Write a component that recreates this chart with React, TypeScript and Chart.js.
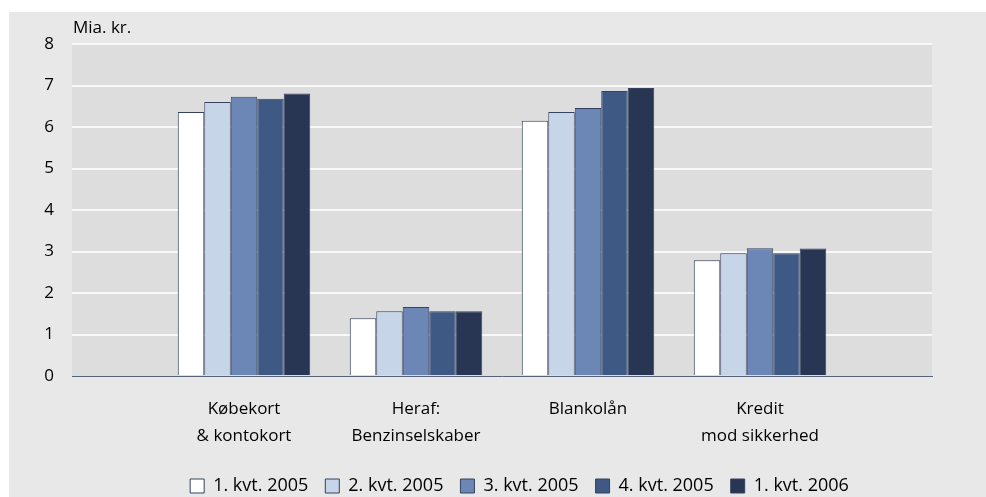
import React, { useEffect, useRef } from "react";
import { Chart, registerables } from "chart.js";

Chart.register(...registerables);

// ---- Data ----
const categories: string[][] = [
  [""],
  ["Købekort", "& kontokort"],
  ["Heraf:", "Benzinselskaber"],
  ["Blankolån"],
  ["Kredit", "mod sikkerhed"],
  [""],
];
const seriesLabels = ["1. kvt. 2005", "2. kvt. 2005", "3. kvt. 2005", "4. kvt. 2005", "1. kvt. 2006"];
const q1_2005 = [null, 6.36, 1.39, 6.15, 2.79, null];
const q2_2005 = [null, 6.6, 1.56, 6.36, 2.96, null];
const q3_2005 = [null, 6.73, 1.66, 6.46, 3.08, null];
const q4_2005 = [null, 6.68, 1.56, 6.87, 2.96, null];
const q1_2006 = [null, 6.81, 1.56, 6.94, 3.07, null];
const yMin = 0;
const yMax = 8;
const yStep = 1;
const unitLabel = "Mia. kr.";

const seriesValues = [q1_2005, q2_2005, q3_2005, q4_2005, q1_2006];
const seriesColors = ["#ffffff", "#c7d5e8", "#6c87b6", "#3f5985", "#283653"];
const borderColor = "#34425f";
const FONT = "'Open Sans', 'Noto Sans', sans-serif";

export default function App() {
  const ref = useRef<HTMLCanvasElement | null>(null);

  useEffect(() => {
    if (!ref.current) return;
    const plotBg = {
      id: "plotBg",
      beforeDraw(chart: any) {
        const { ctx, chartArea } = chart;
        ctx.save();
        ctx.fillStyle = "#dddddd";
        ctx.fillRect(chartArea.left, chartArea.top, chartArea.right - chartArea.left, chartArea.bottom - chartArea.top);
        ctx.restore();
      },
    };
    const unitText = {
      id: "unitText",
      afterDraw(chart: any) {
        const { ctx, chartArea } = chart;
        ctx.save();
        ctx.fillStyle = "#000";
        ctx.font = `17px ${FONT}`;
        ctx.textAlign = "left";
        ctx.textBaseline = "middle";
        ctx.fillText(unitLabel, chartArea.left + 1, 28);
        ctx.restore();
      },
    };

    const chart = new Chart(ref.current, {
      type: "bar",
      data: {
        labels: categories,
        datasets: seriesValues.map((vals, i) => ({
          label: seriesLabels[i],
          data: vals,
          backgroundColor: seriesColors[i],
          borderColor: borderColor,
          borderWidth: 1,
          categoryPercentage: 0.77,
          barPercentage: 1,
        })),
      },
      options: {
        responsive: false,
        animation: false,
        devicePixelRatio: 1,
        layout: { padding: { top: 44, left: 0, right: 0, bottom: 0 } },
        plugins: {
          legend: {
            position: "bottom",
            labels: {
              boxWidth: 14,
              boxHeight: 14,
              padding: 17,
              color: "#000",
              font: { family: FONT, size: 18 },
            },
          },
          tooltip: { enabled: false },
        },
        scales: {
          x: {
            offset: false,
            grid: { display: false, drawTicks: false },
            border: { display: true, color: "#56627a", width: 1 },
            ticks: {
              color: "#000",
              padding: 19.5,
              autoSkip: false,
              maxRotation: 0,
              font: { family: FONT, size: 17, lineHeight: 1.59 },
            },
            afterFit(s: any) {
              s.height = 84;
            },
          },
          y: {
            min: yMin,
            max: yMax,
            ticks: {
              stepSize: yStep,
              color: "#000",
              padding: 18,
              font: { family: FONT, size: 17 },
            },
            grid: {
              drawTicks: false,
              lineWidth: 2,
              color: (c: any) => (c.tick && c.tick.value === 0 ? "rgba(0,0,0,0)" : "#f8f8f8"),
            },
            border: { display: false },
            afterFit(s: any) {
              s.width = 32;
            },
          },
          yRight: {
            type: "linear",
            position: "right",
            display: true,
            grid: { display: false, drawTicks: false },
            ticks: { display: false },
            border: { display: false },
            afterFit(s: any) {
              s.width = 67;
            },
          },
        },
      } as any,
      plugins: [plotBg, unitText],
    });
    return () => chart.destroy();
  }, []);

  return (
    <div
      style={{
        position: "fixed",
        left: 0,
        top: 0,
        width: 986,
        height: 497,
        overflow: "hidden",
        background: "#ffffff",
      }}
    >
      <div style={{ position: "absolute", left: 9, top: 12, right: 0, bottom: 0, background: "#e8e8e8" }} />
      <canvas
        ref={ref}
        width={959}
        height={505}
        style={{ position: "absolute", left: 40, top: 0, width: 959, height: 505 }}
      />
    </div>
  );
}
